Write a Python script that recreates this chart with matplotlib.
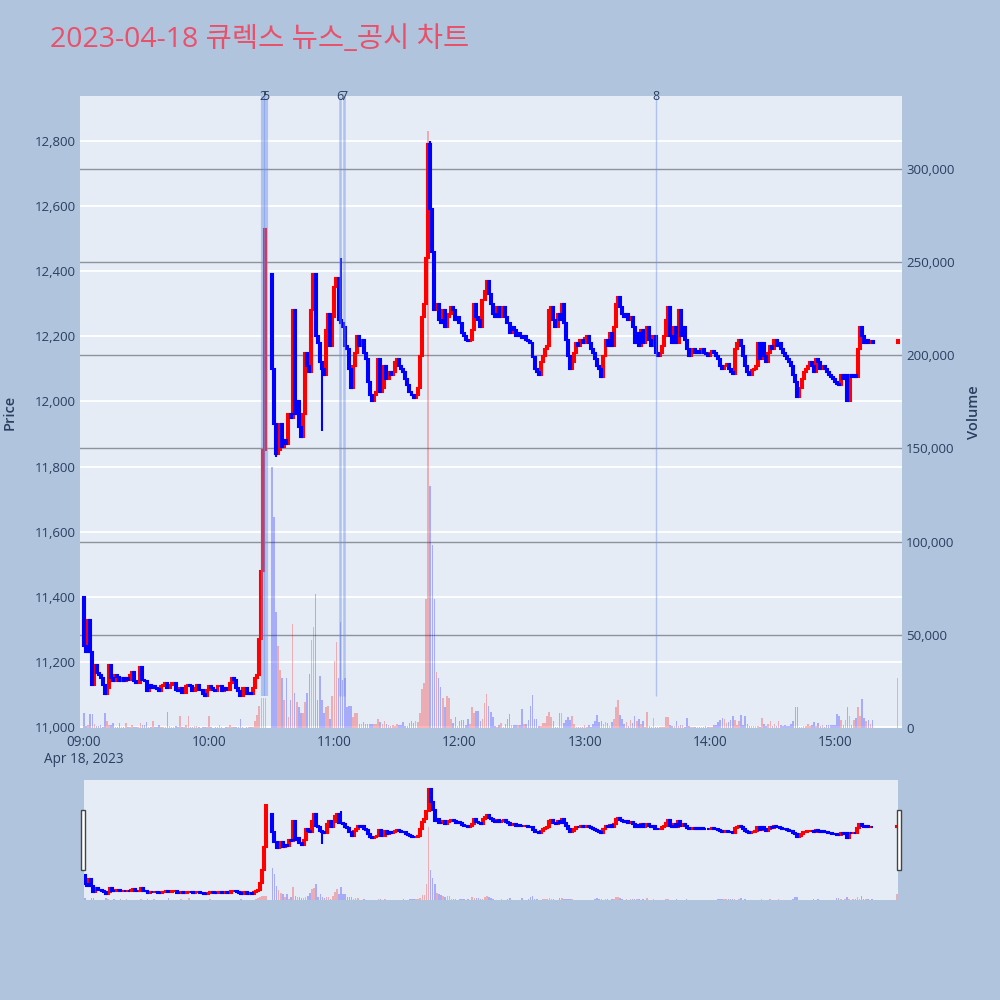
import numpy as np
import pandas as pd
import matplotlib
matplotlib.use("Agg")
import matplotlib.pyplot as plt
import matplotlib.dates as mdates
import matplotlib.ticker as mticker
import matplotlib.transforms as mtransforms
from matplotlib.patches import Rectangle

plt.rcParams['font.family'] = ['Open Sans', 'Noto Sans CJK KR', 'DejaVu Sans']


# ============================================================
# DATA  (1-minute bars, 09:00 .. 15:30, nan = no trade)
# ============================================================
TITLE = "2023-04-18 큐렉스 뉴스_공시 차트"
SESSION_START = "2023-04-18 09:00"
nan = np.nan

closes = [
    11250, 11230, 11330, 11230, 11130, 11190, 11165, 11160, 11150, 11130,
    11100, 11120, 11190, 11150, 11140, 11160, 11155, 11140, 11150, 11140,
    11150, 11145, 11160, 11170, 11140, 11135, 11135, 11185, 11145, 11140,
    11110, 11130, 11120, 11125, 11120, 11118, 11110, 11125, 11130, 11135,
    11120, 11130, 11135, 11135, 11115, 11110, 11120, 11105, 11105, 11125,
    11130, 11125, 11110, 11120, 11130, 11115, 11115, 11100, 11095, 11115,
    11125, 11120, 11115, 11110, 11125, 11125, 11110, 11120, 11115, 11115,
    11135, 11150, 11145, 11120, 11110, 11095, 11120, 11120, 11100, 11105,
    11100, 11120, 11150, 11160, 11270, 11480, 11850, 12530, nan, nan,
    12100, 11930, 11840, 11850, 11930, 11860, 11880, 11870, 11960, 11950,
    12280, 11960, 12000, 11920, 11890, 11960, 12150, 12110, 12090, 12280,
    12390, 12200, 12180, 12120, 12100, 12080, 12220, 12270, 12170, 12260,
    12350, 12380, 12250, 12240, 12230, 12170, 12160, 12100, 12040, 12110,
    12150, 12200, 12170, 12190, 12150, 12130, 12060, 12020, 12000, 12020,
    12030, 12130, 12030, 12040, 12110, 12070, 12090, 12080, 12090, 12120,
    12130, 12110, 12100, 12090, 12070, 12050, 12030, 12020, 12010, 12020,
    12040, 12140, 12260, 12300, 12440, 12790, 12590, 12460, 12280, 12300,
    12250, 12240, 12280, 12230, 12260, 12270, 12290, 12280, 12250, 12260,
    12240, 12210, 12200, 12190, 12185, 12190, 12220, 12300, 12260, 12250,
    12230, 12310, 12340, 12370, 12330, 12300, 12270, 12260, 12290, 12260,
    12280, 12290, 12260, 12240, 12210, 12230, 12220, 12200, 12210, 12200,
    12195, 12200, 12190, 12185, 12180, 12135, 12100, 12090, 12080, 12120,
    12140, 12160, 12170, 12280, 12290, 12250, 12230, 12270, 12250, 12300,
    12240, 12190, 12140, 12100, 12120, 12150, 12180, 12170, 12190, 12180,
    12195, 12200, 12180, 12160, 12150, 12130, 12110, 12100, 12075, 12140,
    12190, 12170, 12210, 12170, 12230, 12300, 12320, 12290, 12270, 12260,
    12270, 12250, 12260, 12230, 12180, 12210, 12170, 12220, 12180, 12200,
    12230, 12190, 12170, 12200, 12150, 12140, 12150, 12170, 12200, 12250,
    12290, 12200, 12180, 12230, 12180, 12280, 12200, 12230, 12190, 12160,
    12140, 12150, 12160, 12150, 12155, 12150, 12160, 12150, 12145, 12140,
    12150, 12155, 12150, 12140, 12130, 12110, 12100, 12110, 12115, 12100,
    12090, 12085, 12160, 12180, 12190, 12170, 12140, 12110, 12090, 12080,
    12095, 12100, 12110, 12180, 12130, 12180, 12140, 12120, 12150, 12170,
    12160, 12190, 12170, 12180, 12160, 12150, 12140, 12130, 12120, 12110,
    12080, 12060, 12015, 12040, 12070, 12090, 12100, 12110, 12120, 12110,
    12090, 12130, 12120, 12100, 12110, 12100, 12090, 12080, 12075, 12070,
    12060, 12055, 12050, 12080, 12070, 12080, 12000, 12080, 12075, 12080,
    12075, 12160, 12230, 12200, 12180, 12190, 12180, 12185, 12180, nan,
    nan, nan, nan, nan, nan, nan, nan, nan, nan, nan,
    12190,
]

volumes = [
    8000, 1000, 1500, 7500, 7500, 2000, 1000, 1000, 1500, 800,
    8000, 4000, 1500, 1800, 2700, 600, 500, 2700, 800, 400,
    2700, 600, 500, 1800, 400, 300, 800, 2500, 1800, 1800,
    3000, 500, 400, 3600, 300, 400, 1800, 300, 500, 600,
    8600, 1200, 400, 500, 900, 300, 6300, 500, 300, 1800,
    6600, 400, 300, 1200, 900, 300, 200, 300, 400, 400,
    6300, 300, 200, 400, 300, 1800, 300, 200, 300, 400,
    1800, 500, 400, 300, 500, 4800, 300, 200, 500, 300,
    300, 500, 3600, 7000, 12000, 16000, 16000, 16000, 0, 0,
    140000, 113000, 62000, 44000, 31000, 27000, 15000, 27000, 6000, 15000,
    56000, 19000, 14000, 11000, 8000, 8000, 14000, 19000, 29000, 47000,
    54000, 72000, 15000, 28000, 15000, 8000, 11000, 12000, 5000, 17000,
    36000, 46000, 27000, 57000, 26000, 27000, 11000, 12000, 12000, 6000,
    8000, 8000, 2000, 2000, 3000, 2000, 2000, 2000, 2000, 2000,
    2000, 5000, 3000, 2000, 4000, 2000, 1500, 1000, 1500, 1000,
    2000, 1500, 1500, 3000, 1200, 1000, 2500, 4000, 2500, 3500,
    3000, 8000, 21000, 24000, 69000, 320000, 130000, 98000, 69000, 30000,
    27000, 22000, 16000, 11000, 17000, 16000, 5000, 2500, 6000, 1000,
    4000, 4300, 4300, 1500, 5000, 2000, 11000, 8000, 9000, 9000,
    4000, 5000, 13600, 18500, 12000, 8500, 6000, 1000, 700, 1500,
    2500, 700, 2000, 5000, 7600, 1500, 1500, 1500, 1500, 1500,
    10000, 2000, 2000, 4300, 12000, 17700, 5000, 5000, 1000, 1000,
    2500, 2900, 6400, 8500, 5700, 4000, 700, 700, 8000, 8000,
    2500, 4300, 6000, 4300, 6500, 2000, 300, 700, 300, 700,
    1500, 700, 1500, 700, 2000, 4000, 7000, 3000, 3500, 2000,
    3000, 2500, 1000, 3000, 4600, 11000, 15000, 7000, 4600, 2000,
    3000, 1000, 4500, 2500, 6500, 4000, 4600, 2000, 4000, 700,
    8500, 1000, 300, 5200, 700, 700, 300, 300, 300, 5700,
    5700, 1500, 1000, 1000, 4000, 1000, 1500, 1500, 700, 5200,
    1000, 300, 500, 700, 300, 500, 300, 700, 1000, 500,
    500, 500, 1500, 1500, 3300, 4300, 5200, 4800, 2900, 3300,
    4300, 6400, 4300, 1500, 3900, 7000, 1500, 6400, 2000, 1000,
    1000, 1000, 1000, 1000, 500, 5200, 2000, 1000, 2000, 3900,
    1000, 2000, 1000, 3900, 1500, 1000, 1500, 1000, 1000, 2000,
    3900, 11000, 11000, 700, 700, 1000, 1000, 2000, 1000, 1500,
    3300, 1000, 2900, 1000, 1500, 700, 1500, 1500, 1500, 1500,
    1500, 7600, 6600, 4300, 1500, 4300, 11500, 6400, 1500, 4300,
    5500, 11000, 6400, 15600, 5500, 3500, 4300, 2000, 4300, 0,
    0, 0, 0, 0, 0, 0, 0, 0, 0, 0,
    26600,
]

# opens that differ from the previous traded close (first bar, after the VI halt)
open_gaps = {0: 11400, 90: 12390}
wick_high = {123: 12440, 166: 12800}
wick_low = {92: 11830, 114: 11910}

news_labels = ["2", "5", "6", "7", "8"]
news_times = ["10:25:50", "10:27:10", "11:02:45", "11:04:40", "13:34:10"]
news_widths = [3.0, 3.0, 1.8, 1.8, 1.0]

price_ticks = [11000, 11200, 11400, 11600, 11800, 12000, 12200, 12400, 12600, 12800]
volume_ticks = [0, 50000, 100000, 150000, 200000, 250000, 300000]


# ============================================================
# STYLE
# ============================================================
PAGE_BG = "#B0C4DE"
PLOT_BG = "#E5ECF6"
TEXT = "#2A3F5F"
RED = "#FF0000"
BLUE = "#0000FF"
TITLE_COLOR = "#E9506A"
MINUTE = 1.0 / 1440.0
BODY_W = 0.95 * MINUTE
VOL_W = 0.75 * MINUTE
PRICE_LIM = (10997, 12938)
VOLUME_LIM = (0, 339000)
MINI_VOLUME_LIM = (0, 525000)


# ============================================================
# BUILD OHLC
# ============================================================
times = pd.date_range(SESSION_START, periods=len(closes), freq="min")
x = mdates.date2num(times)
close = np.array(closes, dtype=float)
volume = np.array(volumes, dtype=float)

open_ = np.full_like(close, np.nan)
last = np.nan
for i, c in enumerate(close):
    if np.isnan(c):
        continue
    open_[i] = open_gaps.get(i, last)
    last = c

high = np.fmax(open_, close)
low = np.fmin(open_, close)
for i, v in wick_high.items():
    high[i] = v
for i, v in wick_low.items():
    low[i] = v

traded = ~np.isnan(close)
up = traded & (close >= open_)
down = traded & (close < open_)
day_low = np.nanmin(low)

news_x = mdates.date2num(pd.to_datetime(["2023-04-18 " + t for t in news_times]))


# ============================================================
# HELPERS
# ============================================================
def draw_candles(ax):

    for mask, col in ((up, RED), (down, BLUE)):
        ax.vlines(x[mask], low[mask], high[mask], color=col, lw=1.5, zorder=3)
        ax.bar(x[mask], close[mask] - open_[mask], bottom=open_[mask],
               width=BODY_W, color=col, edgecolor=col, lw=1.5, zorder=3)


def draw_volume(ax):

    for mask, col in ((up, RED), (down, BLUE)):
        ax.bar(x[mask], volume[mask], width=VOL_W, color=col,
               alpha=0.27, lw=0, zorder=2)


def time_label(val, pos):

    t = mdates.num2date(val)
    s = t.strftime("%H:%M")
    if t.hour == 9:
        s += "\nApr 18, 2023"
    return s


def strip(ax):

    for sp in ax.spines.values():
        sp.set_visible(False)


# ============================================================
# FIGURE
# ============================================================
fig = plt.figure(figsize=(10, 10), dpi=100, facecolor=PAGE_BG)

fig.text(0.05, 0.96, TITLE, fontsize=20.5, color=TITLE_COLOR, va="center", ha="left")

# main panel: volume underneath, price on top
ax_vol = fig.add_axes([0.080, 0.272, 0.822, 0.632])
ax_vol.set_facecolor(PLOT_BG)
ax_price = ax_vol.twinx()
strip(ax_vol)
strip(ax_price)

ax_vol.yaxis.tick_right()
ax_vol.yaxis.set_label_position("right")
ax_price.yaxis.tick_left()
ax_price.yaxis.set_label_position("left")

# price grid drawn in the bottom axes so it stays under every trace
grid_tf = mtransforms.blended_transform_factory(ax_vol.transAxes, ax_price.transData)
ax_vol.hlines(price_ticks, 0, 1, transform=grid_tf, colors="white", lw=1.3, zorder=0.6)
ax_vol.set_yticks(volume_ticks)
ax_vol.grid(axis="y", color="#8E939B", lw=1.0, zorder=0.7)
ax_vol.set_axisbelow(True)

draw_volume(ax_vol)
draw_candles(ax_price)

# news markers
for nx, w in zip(news_x, news_widths):
    ax_price.vlines(nx, day_low, PRICE_LIM[1], colors="#6F8FE8", lw=w, alpha=0.45, zorder=4)
label_tf = mtransforms.blended_transform_factory(ax_price.transData, ax_price.transAxes)
for lab, nx in zip(news_labels, news_x):
    ax_price.text(nx, 1.0, lab, transform=label_tf, ha="center", va="center",
                  fontsize=9, color=TEXT, zorder=5)

xlim = (mdates.date2num(pd.Timestamp("2023-04-18 08:58:05")),
        mdates.date2num(pd.Timestamp("2023-04-18 15:32:08")))
ax_vol.set_xlim(xlim)
ax_price.set_ylim(PRICE_LIM)
ax_vol.set_ylim(VOLUME_LIM)
ax_price.set_yticks(price_ticks)

ax_price.yaxis.set_major_formatter(mticker.StrMethodFormatter("{x:,.0f}"))
ax_vol.yaxis.set_major_formatter(mticker.StrMethodFormatter("{x:,.0f}"))
ax_vol.xaxis.set_major_locator(mdates.HourLocator())
ax_vol.xaxis.set_major_formatter(mticker.FuncFormatter(time_label))

ax_price.tick_params(axis="y", length=0, pad=3, labelsize=9.5, labelcolor=TEXT)
ax_vol.tick_params(axis="y", length=0, pad=3, labelsize=9.5, labelcolor=TEXT)
ax_vol.tick_params(axis="x", length=0, pad=5, labelsize=9.8, labelcolor=TEXT)

ax_price.set_ylabel("Price", fontsize=10.5, color=TEXT, fontweight="semibold", va="center")
ax_price.yaxis.set_label_coords(-0.0855, 0.5)
ax_vol.set_ylabel("Volume", fontsize=10.5, color=TEXT, fontweight="semibold", va="center")
ax_vol.yaxis.set_label_coords(1.087, 0.5)

# range slider
ax_rs = fig.add_axes([0.084, 0.100, 0.814, 0.120])
ax_rs.set_facecolor(PLOT_BG)
ax_rs_price = ax_rs.twinx()
strip(ax_rs)
strip(ax_rs_price)
draw_volume(ax_rs)
draw_candles(ax_rs_price)
ax_rs.set_xlim(x[0] - 0.5 * MINUTE, x[-1] + 0.5 * MINUTE)
ax_rs.set_ylim(MINI_VOLUME_LIM)
ax_rs_price.set_ylim(PRICE_LIM)
for a in (ax_rs, ax_rs_price):
    a.set_xticks([])
    a.set_yticks([])

for hx in (0.0805, 0.8965):
    fig.patches.append(Rectangle((hx, 0.130), 0.004, 0.060, transform=fig.transFigure,
                                 facecolor="white", edgecolor="#444444", lw=1.0))

fig.savefig("out.png", dpi=100, facecolor=PAGE_BG)
